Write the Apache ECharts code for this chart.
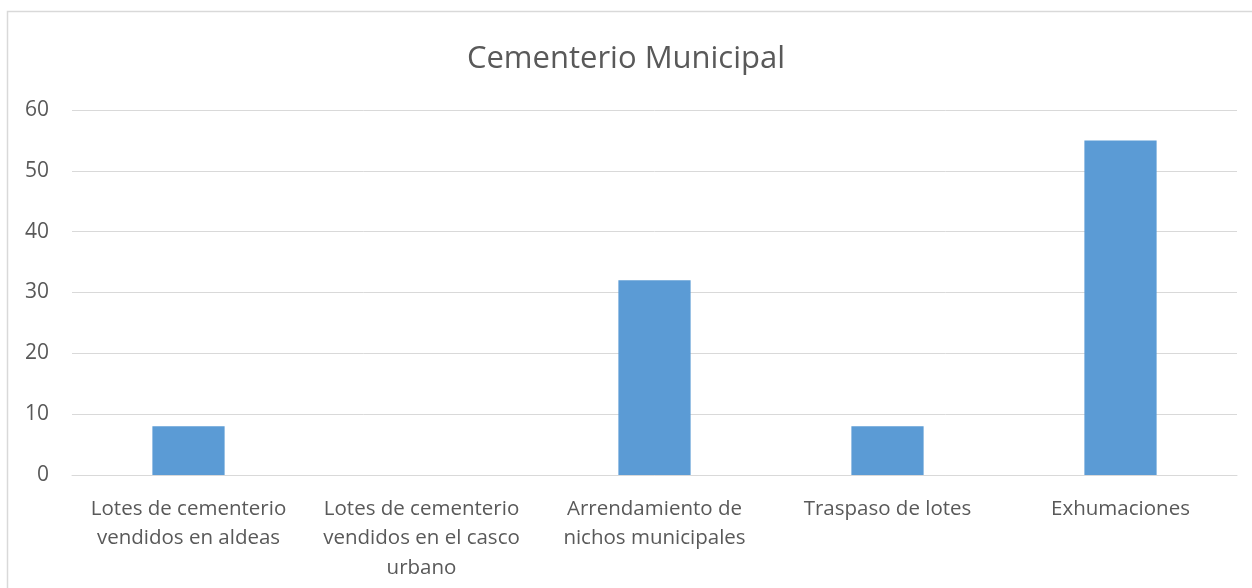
<!DOCTYPE html>
<html>
<head>
    <meta charset="utf-8" />
    <title>Cementerio Municipal</title>
    <script src="https://cdn.jsdelivr.net/npm/echarts@6/dist/echarts.min.js"></script>
    <style>
        html, body { margin: 0; padding: 0; background: #ffffff; }
        #chart { width: 1252px; height: 588px; }
    </style>
</head>
<body>
    <div id="chart"></div>
    <script>
        var categories = [
            'Lotes de cementerio\nvendidos en aldeas',
            'Lotes de cementerio\nvendidos en el casco\nurbano',
            'Arrendamiento de\nnichos municipales',
            'Traspaso de lotes',
            'Exhumaciones'
        ];
        var values = [8, 0, 32, 8, 55];

        var textColor = '#595959';
        var chart = echarts.init(document.getElementById('chart'));

        var option = {
            animation: false,
            textStyle: { fontFamily: 'Open Sans' },
            graphic: [{
                type: 'rect',
                shape: { x: 7.5, y: 11.5, width: 1260, height: 600 },
                style: { fill: 'none', stroke: '#d9d9d9', lineWidth: 1.5 },
                silent: true
            }],
            title: {
                text: 'Cementerio Municipal',
                left: 'center',
                top: 39,
                textStyle: { fontFamily: 'Open Sans', fontSize: 31, fontWeight: 'normal', color: textColor }
            },
            grid: { left: 72, right: 15, top: 110, bottom: 113, containLabel: false },
            xAxis: {
                type: 'category',
                data: categories,
                axisLine: { show: true, lineStyle: { color: '#d9d9d9', width: 1 } },
                axisTick: { show: false },
                axisLabel: {
                    color: textColor, fontSize: 20.5, lineHeight: 29.5, margin: 19,
                    interval: 0
                }
            },
            yAxis: {
                type: 'value',
                min: 0, max: 60, interval: 10,
                axisLine: { show: false },
                axisTick: { show: false },
                splitLine: { lineStyle: { color: '#d9d9d9', width: 1 } },
                axisLabel: { color: textColor, fontSize: 21, margin: 23 }
            },
            series: [{
                type: 'bar',
                data: values,
                barWidth: '31%',
                itemStyle: { color: '#5b9bd5' }
            }]
        };

        chart.setOption(option);
    </script>
</body>
</html>
